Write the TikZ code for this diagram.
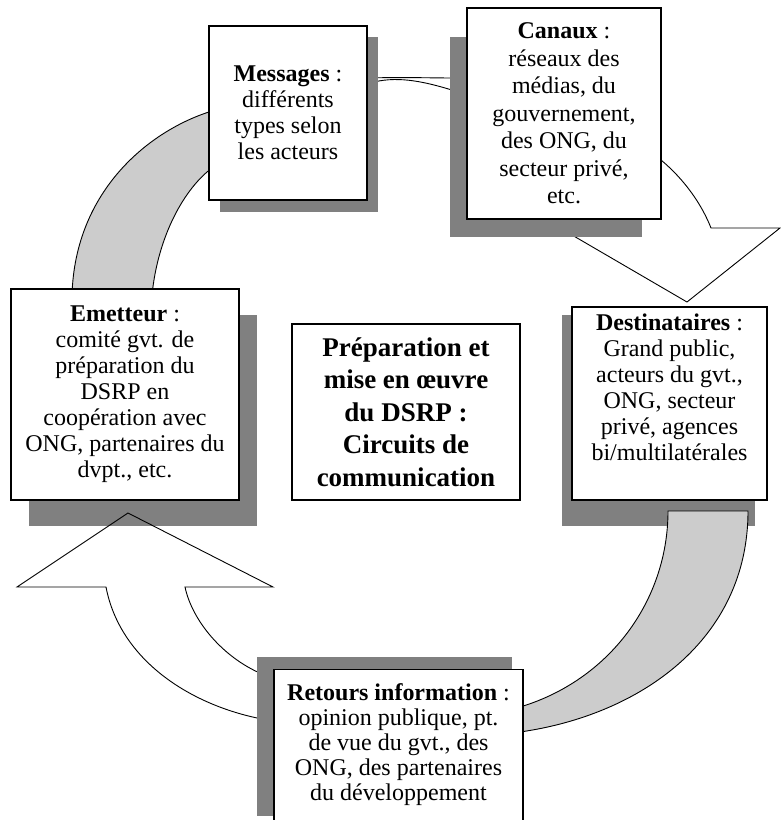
\documentclass[tikz,border=0pt]{standalone}
\usepackage{fontspec}
\setmainfont{Liberation Serif}
\definecolor{shadowgray}{HTML}{808080}
\definecolor{arcgray}{HTML}{CCCCCC}

\begin{document}
\begin{tikzpicture}[x=1pt, y=-1pt,
    box/.style={draw, fill=white, line width=1.1pt, align=center, inner sep=0pt, font=\fontsize{24}{26}\selectfont},
    boxshadow/.style={fill=shadowgray},
    grayflow/.style={draw, fill=arcgray, line width=0.9pt},
    whiteflow/.style={draw, fill=white, line width=0.9pt}]
    \useasboundingbox (0,0) rectangle (781,820);
    \draw[grayflow] (72,295) .. controls (75,190) and (150,130) .. (212,111) -- (212,168) .. controls (185,188) and (158,235) .. (152,295) -- cycle;
    \draw[line width=0.9pt] (370,78) .. controls (400,77) and (430,78) .. (455,78);
    \draw[line width=0.9pt] (370,83) .. controls (395,76) and (420,80) .. (455,91);
    \draw[whiteflow] (661,160) .. controls (685,180) and (702,205) .. (711,228) -- (780,228) -- (687,302) -- (572,235) -- (600,200) -- (655,150) -- cycle;
    \fill[boxshadow] (220,37) rectangle (378,212);
    \node[box, minimum width=158pt, minimum height=174pt] (messages) at (288,113) {\textbf{Messages} :\\différents\\types selon\\les acteurs};
    \fill[boxshadow] (450,37) rectangle (642,237);
    \node[box, minimum width=194pt, minimum height=211pt, font=\fontsize{24}{27.5}\selectfont] (canaux) at (564,113.5) {\textbf{Canaux} :\\réseaux des\\médias, du\\gouvernement,\\des ONG, du\\secteur privé,\\etc.};
    \fill[boxshadow] (29,315) rectangle (257,526);
    \node[box, minimum width=228pt, minimum height=211pt] (emetteur) at (125,394.5) {\textbf{Emetteur} :\\comité gvt. de\\préparation du\\DSRP en\\coopération avec\\ONG, partenaires du\\dvpt., etc.};
    \draw[line width=0.9pt] (262,719) .. controls (190,705) and (120,660) .. (106,587) -- (17,587) -- (128,513) -- (273,587) -- (185,587) .. controls (192,620) and (222,657) .. (262,674);
    \fill[boxshadow] (562,315) rectangle (755,526);
    \node[box, minimum width=195pt, minimum height=193pt, text depth=33pt] (destinataires) at (669.5,403.5) {\textbf{Destinataires} :\\Grand public,\\acteurs du gvt.,\\ONG, secteur\\privé, agences\\bi/multilatérales};
    \draw[grayflow] (668,511) -- (748,511) .. controls (748,640) and (640,715) .. (520,732) -- (520,707) .. controls (610,680) and (668,600) .. (668,511) -- cycle;
    \fill[boxshadow] (257,657) rectangle (512,816);
    \node[box, minimum width=249pt, anchor=north, inner ysep=14pt, text depth=20pt, font=\fontsize{24}{25}\selectfont] (retours) at (398.5,669) {\textbf{Retours information} :\\opinion publique, pt.\\de vue du gvt., des\\ONG, des partenaires\\du développement};
    \node[box, minimum width=228pt, minimum height=176pt, font=\fontsize{27}{32.5}\selectfont\bfseries] (centre) at (406,412) {Préparation et\\mise en œuvre\\du DSRP :\\Circuits de\\communication};
\end{tikzpicture}
\end{document}
